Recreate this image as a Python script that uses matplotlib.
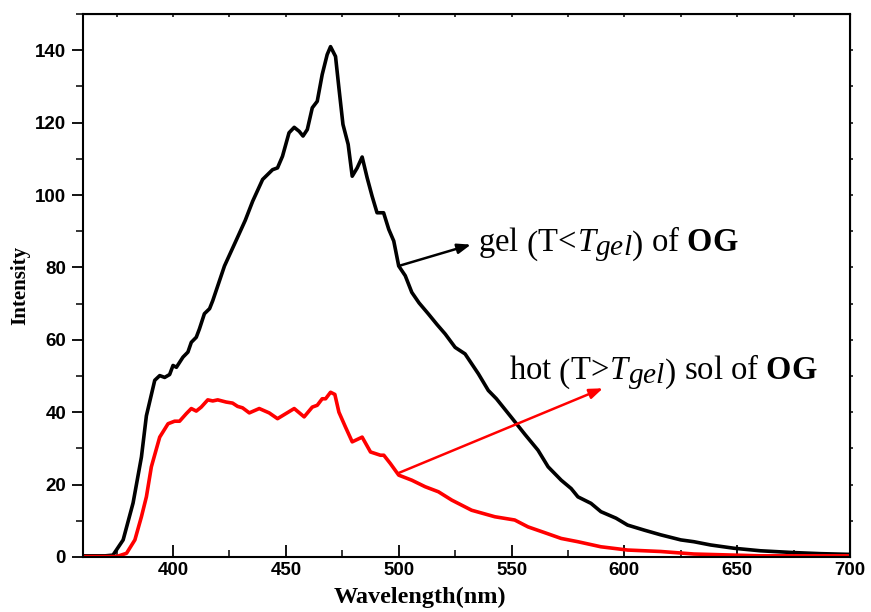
import matplotlib
matplotlib.use('Agg')
import matplotlib.pyplot as plt
from matplotlib.ticker import MultipleLocator
import matplotlib._mathtext as mt

# gel (black) spectrum
gel_x = [360, 370, 373.4, 377.9, 382.3, 386, 388.2, 391.9, 394.1, 396.3, 398.5, 400, 401.5,
         404.4, 406.6, 408.1, 410.3, 411.7, 413.9, 416.2, 417.6, 422.8, 428, 432, 435.3,
         439.7, 444.1, 446.3, 448.5, 451.4, 453.7, 455.9, 457.6, 459.5, 461.7, 463.9, 466.1,
         468.3, 469.8, 472, 473.5, 475.3, 477.6, 479.4, 481.6, 483.8, 486, 488.2, 490.4,
         493.3, 495.6, 497.8, 500, 502.9, 505.8, 509, 513.2, 517, 520.6, 525, 529.4, 535.3,
         539.7, 543.3, 550, 556, 561.7, 566.2, 572, 576.4, 579.4, 585.2, 589.6, 596.3, 601.4,
         608.8, 616.1, 625, 630.8, 638.2, 648.5, 660.2, 675, 687, 700]
gel_y = [0.3, 0.3, 0.5, 4.7, 14.9, 27.6, 39, 48.8, 50.1, 49.6, 50.4, 52.9, 52.4,
         55.2, 56.6, 59.3, 60.7, 63, 67.2, 68.6, 70.8, 80.4, 87.5, 93, 98.3,
         104.3, 107, 107.5, 110.7, 117.2, 118.7, 117.6, 116.3, 118.1, 124.1, 125.9, 133.3,
         138.8, 141, 138.3, 129.6, 119.5, 114, 105.2, 107.5, 110.5, 104.8, 99.7, 95.1,
         95.1, 90.5, 87.3, 80.4, 77.7, 73.1, 70.2, 67.1, 64.2, 61.6, 57.9, 56.1, 50.6,
         46, 43.7, 38.5, 33.8, 29.5, 24.9, 21.2, 18.9, 16.6, 14.8, 12.5, 10.7, 8.8,
         7.4, 6.1, 4.7, 4.2, 3.3, 2.4, 1.7, 1.2, 0.9, 0.7]

# hot sol (red) spectrum
sol_x = [360, 375, 379.4, 383.1, 386, 388.2, 390.4, 394.1, 397.8, 400.7, 402.9, 405.9, 408.1,
         410.3, 412.5, 415.4, 417.6, 419.8, 423.5, 426.4, 428.6, 430.8, 433.8, 438.2, 442.6,
         446.3, 450, 453.7, 458.1, 461.7, 463.9, 466.1, 467.6, 469.8, 471.7, 473.5, 476.4,
         479.4, 483.8, 487.5, 491.9, 493.4, 496.3, 500, 505.8, 511.7, 517.6, 523.5, 527.9,
         532.3, 542.6, 551.4, 557.3, 564.7, 572, 579.4, 589.6, 601.4, 616.1, 630.8, 660.2, 700]
sol_y = [0.1, 0.1, 1, 4.7, 11.1, 16.6, 24.9, 33.1, 36.8, 37.5, 37.5, 39.6, 41,
         40.3, 41.4, 43.4, 43.1, 43.4, 42.8, 42.5, 41.6, 41.2, 39.8, 41, 39.8,
         38.2, 39.6, 41, 38.7, 41.4, 41.9, 43.7, 43.7, 45.5, 44.9, 40, 35.9,
         31.8, 33.1, 29, 28.1, 28.1, 25.8, 22.6, 21.2, 19.4, 18, 15.7, 14.3,
         12.9, 11.1, 10.2, 8.3, 6.7, 5.1, 4.2, 2.8, 1.9, 1.5, 0.8, 0.3, 0.3]

plt.rcParams['mathtext.fontset'] = 'custom'
plt.rcParams['mathtext.rm'] = 'Liberation Serif'
plt.rcParams['mathtext.it'] = 'Liberation Serif:italic'
plt.rcParams['mathtext.bf'] = 'Liberation Serif:bold'
# subscripts in the original are almost full size
mt.SHRINK_FACTOR = 0.9

fig = plt.figure(figsize=(8.71, 6.12), dpi=100)
ax = fig.add_axes([0.095, 0.09, 0.881, 0.887])

ax.plot(gel_x, gel_y, color='black', lw=2.6)
ax.plot(sol_x, sol_y, color='#ff0000', lw=2.6)

ax.set_xlim(360, 700)
ax.set_ylim(0, 150)
ax.xaxis.set_major_locator(MultipleLocator(50))
ax.xaxis.set_minor_locator(MultipleLocator(25))
ax.yaxis.set_major_locator(MultipleLocator(20))
ax.yaxis.set_minor_locator(MultipleLocator(10))
ax.set_xticks([400, 450, 500, 550, 600, 650, 700])

ax.tick_params(axis='x', which='major', direction='in', length=9, width=1.3)
ax.tick_params(axis='x', which='minor', direction='in', length=5, width=1.1)
ax.tick_params(axis='y', which='major', direction='out', length=8, width=1.3)
ax.tick_params(axis='y', which='minor', direction='out', length=5, width=1.1)
ax.tick_params(which='both', labelsize=13.5, pad=4)
# tiny marks on the top and right frame
sec = ax.secondary_xaxis('top')
sec.set_xticks([375, 400, 425, 450, 475, 500, 525, 550, 575, 600, 625, 650, 675])
sec.tick_params(direction='in', length=2.5, width=1.1, labeltop=False)
secy = ax.secondary_yaxis('right')
secy.set_yticks([10, 20, 30, 40, 50, 60, 70, 80, 90, 100, 110, 120, 130, 140])
secy.tick_params(direction='out', length=2.5, width=1.1, labelright=False)
for lab in ax.get_xticklabels() + ax.get_yticklabels():
    lab.set_fontfamily('Liberation Sans')
    lab.set_fontweight('bold')
for s in ax.spines.values():
    s.set_linewidth(1.5)

ax.set_xlabel('Wavelength(nm)', fontfamily='Liberation Serif', fontweight='bold',
              fontsize=17.5, labelpad=0)
ax.xaxis.set_label_coords(0.44, -0.055)
ax.set_ylabel('Intensity', fontfamily='Liberation Serif', fontweight='bold', fontsize=15)
ax.yaxis.set_label_coords(-0.068, 0.5)

ax.annotate('', xy=(532, 86.3), xytext=(500, 80.4),
            arrowprops=dict(arrowstyle='-|>,head_length=0.8,head_width=0.3',
                            color='black', lw=1.8, shrinkA=0, shrinkB=0))
ax.text(535, 86.5, r'gel $\left(\mathrm{T}\!<\!T_{gel}\right)$ of $\mathbf{OG}$',
        fontfamily='Liberation Serif', fontsize=23.5, va='center', ha='left')

ax.annotate('', xy=(590.5, 46.6), xytext=(500, 23.2),
            arrowprops=dict(arrowstyle='-|>,head_length=0.8,head_width=0.3',
                            color='#ff0000', lw=1.8, shrinkA=0, shrinkB=0))
ax.text(549, 51, r'hot $\left(\mathrm{T}\!>\!T_{gel}\right)$ sol of $\mathbf{OG}$',
        fontfamily='Liberation Serif', fontsize=23.5, va='center', ha='left')

fig.savefig('out.png', dpi=100)
